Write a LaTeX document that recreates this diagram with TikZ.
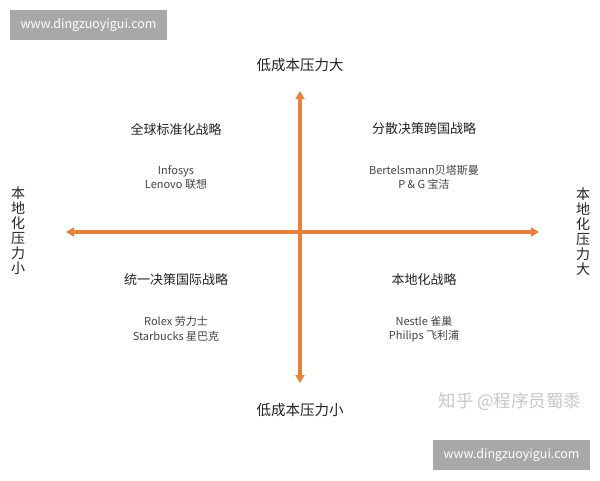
\documentclass[tikz,border=0pt]{standalone}
\usepackage{fontspec}
\setmainfont{Noto Sans CJK SC}
\usetikzlibrary{arrows.meta}
\definecolor{axisor}{HTML}{E5823F}
\definecolor{wmgray}{HTML}{A8A8A8}
\definecolor{zhgray}{HTML}{C8C8C8}
\definecolor{txt}{HTML}{222222}
\tikzset{
  axis/.style={draw=axisor,line width=3.6pt,{Triangle[length=8pt,width=9pt]}-{Triangle[length=8pt,width=9pt]}},
  axlabel/.style={font=\fontsize{14.5}{15}\selectfont,text=txt,inner sep=0pt},
  vlabel/.style={font=\fontsize{14}{15}\selectfont,text=txt,inner sep=0pt,align=center},
  qtitle/.style={font=\fontsize{13}{15}\selectfont,text=txt,inner sep=0pt},
  comp/.style={font=\fontsize{11}{14.5}\selectfont,text=txt!85,inner sep=0pt,align=center},
  wm/.style={fill=wmgray,text=white,font=\fontsize{12.5}{13}\selectfont,minimum width=157pt,minimum height=30pt,inner sep=0pt},
}
\begin{document}
\begin{tikzpicture}[x=1pt,y=-1pt]
\useasboundingbox (0,0) rectangle (600,480);
\fill[white] (0,0) rectangle (600,480);
% watermarks
\node[wm] (wm1) at (88.5,25) {www.dingzuoyigui.com};
\node[wm] (wm2) at (511.5,455) {www.dingzuoyigui.com};
\node[font=\fontsize{17.5}{18}\selectfont,text=zhgray,inner sep=0pt] (zh) at (510,402) {知乎 @程序员蜀黍};
% axes
\coordinate (L) at (66,232);
\coordinate (R) at (539,232);
\coordinate (T) at (300,91);
\coordinate (B) at (300,383);
\draw[axis] (L) -- (R);
\draw[axis] (B) -- (T);
% axis labels
\node[axlabel] (top) at (300,65) {低成本压力大};
\node[axlabel] (bot) at (300,410) {低成本压力小};
\node[vlabel] (left) at (18,231) {本\\地\\化\\压\\力\\小};
\node[vlabel] (right) at (583,232) {本\\地\\化\\压\\力\\大};
% quadrants
\node[qtitle] (q1) at (176,129) {全球标准化战略};
\node[comp] (c1) at (176,177.5) {Infosys\\Lenovo 联想};
\node[qtitle] (q2) at (424,129) {分散决策跨国战略};
\node[comp] (c2) at (424,177.5) {Bertelsmann贝塔斯曼\\P \& G 宝洁};
\node[qtitle] (q3) at (176,280) {统一决策国际战略};
\node[comp] (c3) at (176,329) {Rolex 劳力士\\Starbucks 星巴克};
\node[qtitle] (q4) at (424,280) {本地化战略};
\node[comp] (c4) at (424,329) {Nestle 雀巢\\Philips 飞利浦};
\end{tikzpicture}
\end{document}
